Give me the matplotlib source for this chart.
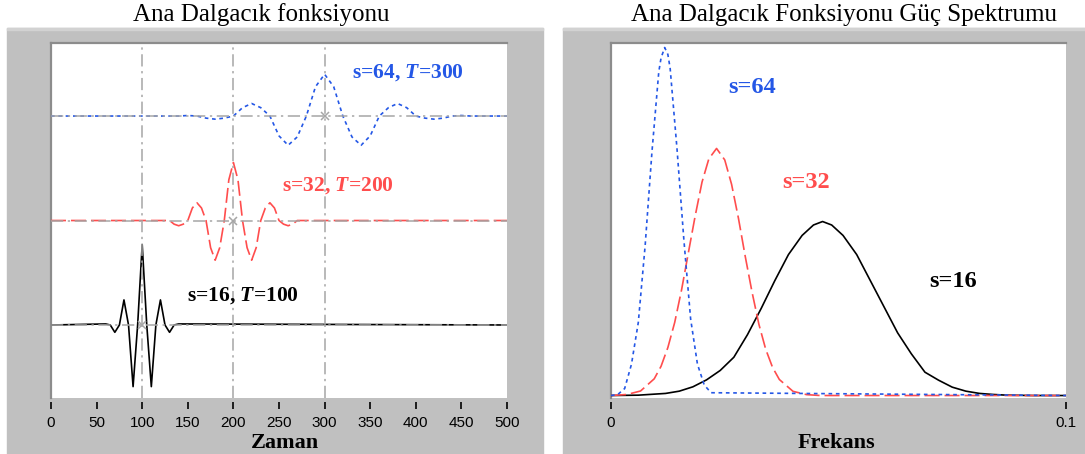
import numpy as np
import matplotlib
matplotlib.use("Agg")
import matplotlib.pyplot as plt
from matplotlib.patches import Rectangle

plt.rcParams['mathtext.fontset'] = 'custom'
plt.rcParams['mathtext.it'] = 'Liberation Serif:italic:bold'
plt.rcParams['mathtext.rm'] = 'Liberation Serif:bold'

# --- left panel: wavelets (value relative to own baseline) ---
t16 = [0, 60, 65, 70, 75, 80, 85, 90, 95, 100, 105, 110, 115, 120, 125,
       130, 135, 140, 500]
v16 = [0, 0.01, 0, -0.07, 0, 0.24, 0, -0.59, 0, 0.77, 0, -0.59, 0, 0.24, 0,
       -0.07, 0, 0.01, 0]

t32 = [0, 130, 135, 140, 145, 150, 155, 160, 165, 170, 175, 180, 185, 190,
       195, 200, 205, 210, 215, 220, 225, 230, 235, 240, 245, 250, 255, 260,
       265, 270, 500]
v32 = [0, 0, -0.035, -0.05, -0.035, 0, 0.12, 0.17, 0.12, 0, -0.26, -0.38,
       -0.26, 0, 0.39, 0.555, 0.39, 0, -0.26, -0.38, -0.26, 0, 0.12, 0.17,
       0.12, 0, -0.035, -0.05, -0.035, 0, 0]

t64 = [0, 140, 150, 160, 170, 180, 190, 200, 210, 220, 230, 240, 250, 260,
       270, 280, 290, 300, 310, 320, 330, 340, 350, 360, 370, 380, 390, 400,
       410, 420, 430, 440, 450, 460, 500]
v64 = [0, 0, 0.005, 0, -0.02, -0.03, -0.02, 0, 0.08, 0.12, 0.08, 0, -0.19,
       -0.28, -0.20, 0, 0.28, 0.40, 0.28, 0, -0.20, -0.28, -0.19, 0, 0.08,
       0.12, 0.08, 0, -0.02, -0.03, -0.02, 0, 0.005, 0, 0]

scales = [16, 32, 64]
centres = [100, 200, 300]
offsets = [0, 1, 2]

# --- right panel: power spectra ---
f16 = [0, 0.006, 0.012, 0.015, 0.018, 0.021, 0.024, 0.027, 0.030, 0.033,
       0.036, 0.039, 0.042, 0.0445, 0.0465, 0.0485, 0.051, 0.054, 0.057,
       0.060, 0.063, 0.066, 0.069, 0.072, 0.075, 0.078, 0.081, 0.084, 0.087,
       0.093, 0.1]
p16 = [0, 0.001, 0.006, 0.0125, 0.025, 0.045, 0.072, 0.11, 0.175, 0.25,
       0.33, 0.405, 0.46, 0.49, 0.50, 0.49, 0.46, 0.405, 0.33, 0.255, 0.18,
       0.12, 0.067, 0.044, 0.024, 0.0125, 0.006, 0.003, 0.001, 0, 0]

f32 = [0, 0.0035, 0.0065, 0.0095, 0.011, 0.0125, 0.014, 0.0155, 0.017,
       0.0185, 0.020, 0.0215, 0.0232, 0.025, 0.0265, 0.028, 0.0295, 0.031,
       0.0325, 0.034, 0.0355, 0.037, 0.040, 0.043, 0.046, 0.1]
p32 = [0, 0.003, 0.013, 0.048, 0.084, 0.138, 0.21, 0.303, 0.41, 0.516,
       0.613, 0.68, 0.71, 0.677, 0.607, 0.51, 0.40, 0.297, 0.205, 0.133,
       0.081, 0.046, 0.012, 0.0025, 0, 0]

f64 = [0, 0.0015, 0.003, 0.0045, 0.006, 0.0075, 0.009, 0.0105, 0.011,
       0.0118, 0.0125, 0.013, 0.0145, 0.016, 0.0175, 0.019, 0.0205, 0.022,
       0.1]
p64 = [0, 0.003, 0.02, 0.09, 0.21, 0.43, 0.70, 0.93, 0.97, 1.0, 0.98, 0.94,
       0.71, 0.45, 0.22, 0.09, 0.03, 0.008, 0]

colors = ['black', '#ff4d4d', '#2457e6']
styles = ['-', (0, (9, 3)), (0, (2.2, 2.2))]
cursor_col = '#a6a6a6'
cursor_ls = (0, (8, 3, 1.5, 3))

W, H = 1085, 454
fig = plt.figure(figsize=(W / 100, H / 100), dpi=100)

# gray frames behind the two plots
bg = fig.add_axes([0, 0, 1, 1], zorder=0)
bg.axis('off')


def grad(ax, x0, x1, y0, y1, c0, c1):
    g = np.linspace(0, 1, 32)[None, :, None]
    c0 = np.array(matplotlib.colors.to_rgb(c0))
    c1 = np.array(matplotlib.colors.to_rgb(c1))
    img = c0 + (c1 - c0) * g
    ax.imshow(img, extent=(x0, x1, y1, y0), aspect='auto', interpolation='bilinear')


for x0, x1 in [(7, 543), (563, 1085)]:
    bg.add_patch(Rectangle((x0, 28), x1 - x0, H - 28, color='#c0c0c0'))
    grad(bg, x0, x0 + 20, 28, H, '#d6d6d6', '#c0c0c0')
    bg.add_patch(Rectangle((x0, 28), x1 - x0, 2, color='#d2d2d2'))
grad(bg, 520, 543, 28, H, '#c0c0c0', '#5a5a5a')
bg.set_xlim(0, W)
bg.set_ylim(H, 0)

bottom = 1 - 397.5 / H
height = (397.5 - 43) / H
ax1 = fig.add_axes([51 / W, bottom, 456 / W, height], zorder=2)
ax2 = fig.add_axes([611 / W, bottom, 455 / W, height], zorder=2)

for ax in (ax1, ax2):
    ax.set_facecolor('white')
    for side in ('right', 'bottom'):
        ax.spines[side].set_visible(False)
    for side in ('top', 'left'):
        ax.spines[side].set_color('#8c8c8c')
        ax.spines[side].set_linewidth(1.6)
    ax.spines['bottom'].set_position(('outward', 3))
    ax.set_yticks([])
    ax.tick_params(axis='x', direction='out', length=5, width=1.2, pad=5,
                   labelsize=11, colors='black')

# left panel
wave_t = [t16, t32, t64]
wave_v = [v16, v32, v64]
for i in range(3):
    y = np.array(wave_v[i]) + offsets[i]
    ax1.plot(wave_t[i], y, color=colors[i], linestyle=styles[i], lw=1.2,
             zorder=3)
for i in range(3):
    ax1.axvline(centres[i], color=cursor_col, linestyle=cursor_ls, lw=1.1, zorder=4)
    ax1.axhline(offsets[i], color=cursor_col, linestyle=cursor_ls, lw=1.1, zorder=4)
    ax1.plot(centres[i], offsets[i], marker='x', color=cursor_col, ms=6,
             mew=1.1, zorder=5)
ax1.set_xlim(0, 500)
ax1.set_ylim(-0.694, 2.699)
ax1.set_xticks(np.arange(0, 501, 50))
for lab in ax1.get_xticklabels():
    lab.set_family('Liberation Sans')

lab_pos = [(149, 0.28), (253, 1.335), (330, 2.42)]
for i in range(3):
    ax1.text(lab_pos[i][0], lab_pos[i][1],
             's=%d, $\\mathit{T}$=%d' % (scales[i], centres[i]),
             color=colors[i], fontsize=15.5, fontweight='bold',
             family='Liberation Serif', va='center', ha='left', zorder=6)

# right panel
spec_f = [f16, f32, f64]
spec_p = [p16, p32, p64]
for i in range(3):
    ax2.plot(spec_f[i], spec_p[i], color=colors[i], linestyle=styles[i],
             lw=1.2, zorder=3 + i)
ax2.set_xlim(0, 0.1)
ax2.set_ylim(-0.0057, 1.013)
ax2.set_xticks([0, 0.1])
ax2.set_xticklabels(['0', '0.1'])
for lab in ax2.get_xticklabels():
    lab.set_family('Liberation Sans')

spec_pos = [(0.070, 0.329), (0.0377, 0.613), (0.0257, 0.884)]
for i in range(3):
    ax2.text(spec_pos[i][0], spec_pos[i][1], 's=%d' % scales[i],
             color=colors[i], fontsize=17.5, fontweight='bold',
             family='Liberation Serif', va='center', ha='left', zorder=6)

# titles and axis labels
fig.text(261 / W, 1 - 15 / H, 'Ana Dalgacık fonksiyonu', ha='center',
         va='center', fontsize=18, family='Liberation Serif')
fig.text(844 / W, 1 - 15 / H, 'Ana Dalgacık Fonksiyonu Güç Spektrumu',
         ha='center', va='center', fontsize=18, family='Liberation Serif')
fig.text(285 / W, 1 - 443 / H, 'Zaman', ha='center', va='center',
         fontsize=16, fontweight='bold', family='Liberation Serif')
fig.text(836 / W, 1 - 443 / H, 'Frekans', ha='center', va='center',
         fontsize=16, fontweight='bold', family='Liberation Serif')

fig.savefig('out.png', dpi=100, facecolor='white')
